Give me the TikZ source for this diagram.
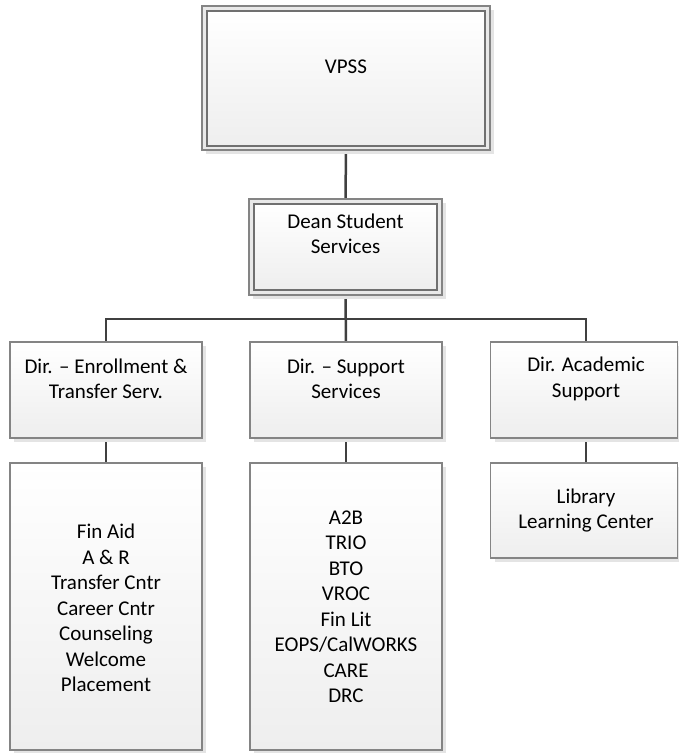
\documentclass[tikz,border=0pt]{standalone}
\usepackage{fontspec}
\setmainfont{Carlito}
\usetikzlibrary{shadows}
\definecolor{bordc}{HTML}{848484}
\definecolor{bordd}{HTML}{707070}
\definecolor{linec}{HTML}{404040}
\definecolor{shadc}{HTML}{E4E4E4}
\definecolor{botc}{HTML}{EEEEEE}
\definecolor{gapc}{HTML}{E9E9E9}
\pgfdeclarelayer{bg}
\pgfsetlayers{bg,main}
\begin{document}
\begin{tikzpicture}[x=1pt,y=-1pt,
  box/.style={rectangle, draw=bordc, line width=1.3pt, inner sep=0pt,
    top color=white, bottom color=botc,
    drop shadow={shadow xshift=4pt, shadow yshift=-4pt, fill=shadc, opacity=1}},
  outerbox/.style={rectangle, draw=bordc, line width=1.3pt, inner sep=0pt,
    fill=gapc,
    drop shadow={shadow xshift=4pt, shadow yshift=-4pt, fill=shadc, opacity=1}},
  innerbox/.style={rectangle, draw=bordd, line width=1.3pt, inner sep=0pt,
    top color=white, bottom color=botc},
  txt/.style={align=center, inner sep=0pt, text=black,
    font=\fontsize{21pt}{25.5pt}\selectfont},
  conn/.style={draw=linec, line width=2.5pt}
]
\useasboundingbox (0,0) rectangle (678,753);

% top level
\node[outerbox, minimum width=288pt, minimum height=144pt] (vpss) at (346,78) {};
\node[innerbox, minimum width=278pt, minimum height=135pt] (vpssin) at (346,78.5) {};
\node[txt] (vpsst) at (346,67) {VPSS};

% dean
\node[outerbox, minimum width=193pt, minimum height=96pt] (dean) at (345.5,247) {};
\node[innerbox, minimum width=183pt, minimum height=86pt] (deanin) at (345.5,247) {};
\node[txt] (deant) at (345.5,234) {Dean Student\\Services};

% directors
\node[box, minimum width=192pt, minimum height=96pt] (e1) at (106,390) {};
\node[box, minimum width=192pt, minimum height=96pt] (e2) at (346,390) {};
\node[box, minimum width=187pt, minimum height=96pt] (e3) at (584,390) {};
\node[txt] (e1t) at (106,379) {Dir. -- Enrollment \&\\Transfer Serv.};
\node[txt] (e2t) at (346,379) {Dir. -- Support\\Services};
\node[txt] (e3t) at (586,379) {Dir. Academic\\Support};

% units
\node[box, minimum width=192pt, minimum height=287pt] (l1) at (106,606.5) {};
\node[box, minimum width=192pt, minimum height=287pt] (l2) at (346,606.5) {};
\node[box, minimum width=187pt, minimum height=95pt] (l3) at (584,510.5) {};
\node[txt] (l1t) at (106,608) {Fin Aid\\A \& R\\Transfer Cntr\\Career Cntr\\Counseling\\Welcome\\Placement};
\node[txt] (l2t) at (346,606.5) {A2B\\TRIO\\BTO\\VROC\\Fin Lit\\EOPS/CalWORKS\\CARE\\DRC};
\node[txt] (l3t) at (586,510.5) {Library\\Learning Center};

% connectors
\coordinate (busL) at (106,319);
\coordinate (busR) at (586,319);
\begin{pgfonlayer}{bg}
\draw[conn] (vpss.south) -- (dean.north);
\draw[conn] (dean.south) -- (e2.north);
\draw[conn] (e1.north) -- (busL) -- (busR) -- (busR |- e3.north);
\draw[conn] (e1.south) -- (l1.north);
\draw[conn] (e2.south) -- (l2.north);
\draw[conn] (busR |- e3.south) -- (busR |- l3.north);
\end{pgfonlayer}
\end{tikzpicture}
\end{document}
